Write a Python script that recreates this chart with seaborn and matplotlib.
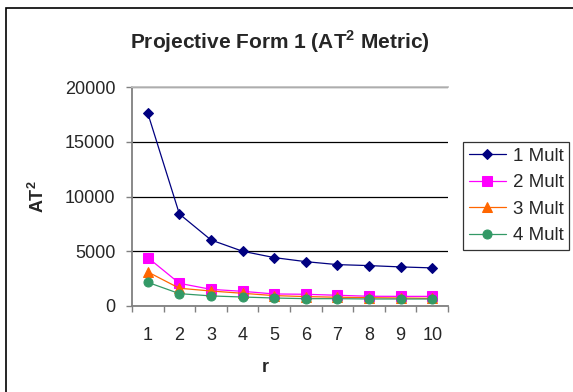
import numpy as np
import pandas as pd
import matplotlib
matplotlib.use("Agg")
import matplotlib.pyplot as plt
from matplotlib.patches import Rectangle
import seaborn as sns

# ---- data ----
r_values = [1, 2, 3, 4, 5, 6, 7, 8, 9, 10]
mult1 = [17600, 8400, 6030, 5000, 4420, 4050, 3780, 3690, 3570, 3480]
mult2 = [4420, 2070, 1520, 1340, 1100, 1070, 980, 890, 880, 880]
mult3 = [3110, 1620, 1370, 1160, 950, 860, 800, 760, 730, 700]
mult4 = [2160, 1130, 920, 820, 730, 670, 670, 640, 640, 640]
series_names = ["1 Mult", "2 Mult", "3 Mult", "4 Mult"]
y_ticks = [0, 5000, 10000, 15000, 20000]

colors = ["#000080", "#FF00FF", "#FF6600", "#339966"]
markers = ["D", "s", "^", "o"]
msizes = [5.5, 6.5, 7, 6.5]

sns.set_theme(style="white")
plt.rcParams["font.family"] = ["Liberation Sans", "DejaVu Sans"]
plt.rcParams["mathtext.fontset"] = "custom"
plt.rcParams["mathtext.rm"] = "Liberation Sans"
plt.rcParams["mathtext.bf"] = "Liberation Sans:bold"

df = pd.DataFrame({
    "r": r_values * 4,
    "AT2": mult1 + mult2 + mult3 + mult4,
    "series": sum([[n] * len(r_values) for n in series_names], []),
})

fig = plt.figure(figsize=(5.73, 3.92), dpi=100)
ax = fig.add_axes([132 / 573, 1 - 306 / 392, (448 - 132) / 573, (306 - 87) / 392])

for name, c, m, ms in zip(series_names, colors, markers, msizes):
    sub = df[df["series"] == name]
    sns.lineplot(data=sub, x="r", y="AT2", ax=ax, color=c, marker=m,
                 markersize=ms, markeredgecolor=c, linewidth=0.9,
                 label=name, legend=False, zorder=3)

ax.set_xlim(0.5, 10.5)
ax.set_ylim(0, 20000)
ax.set_yticks(y_ticks)
ax.set_yticklabels([str(v) for v in y_ticks], fontsize=13)
ax.set_xticks(np.arange(0.5, 11, 1))
ax.set_xticklabels([])
ax.set_xticks(r_values, minor=True)
ax.set_xticklabels([str(v) for v in r_values], minor=True, fontsize=13)
ax.tick_params(axis="x", which="major", direction="out", length=4.5, width=1,
               color="#808080", bottom=True)
ax.tick_params(axis="x", which="minor", length=0, pad=15)
ax.tick_params(axis="y", direction="out", length=4, width=1, color="#808080",
               left=True, pad=8)
ax.set_xlabel("")
ax.set_ylabel("")

ax.set_axisbelow(True)
ax.yaxis.grid(True, color="black", linewidth=0.9)
ax.xaxis.grid(False)
for s in ["left", "bottom", "top"]:
    ax.spines[s].set_visible(True)
    ax.spines[s].set_linewidth(1.3)
ax.spines["left"].set_color("#808080")
ax.spines["bottom"].set_color("#808080")
ax.spines["top"].set_color("#C0C0C0")
ax.spines["right"].set_visible(False)

fig.text(280 / 573, 1 - 42 / 392, r"Projective Form 1 (AT$^{\mathbf{2}}$ Metric)",
         ha="center", va="center", fontsize=15, fontweight="bold")
fig.text(38 / 573, 1 - 197 / 392, r"AT$^{\mathbf{2}}$", rotation=90,
         ha="center", va="center", fontsize=13, fontweight="bold")
fig.text(265 / 573, 1 - 367 / 392, "r", ha="center", va="center",
         fontsize=13, fontweight="bold")

handles, labels = ax.get_legend_handles_labels()
leg = fig.legend(handles, labels, loc="upper left",
                 bbox_to_anchor=(463 / 573, 1 - 142 / 392),
                 fontsize=13.5, frameon=True, fancybox=False,
                 handlelength=2.0, handletextpad=0.35, labelspacing=0.5,
                 borderpad=0.3, borderaxespad=0)
leg.get_frame().set_edgecolor("black")
leg.get_frame().set_linewidth(0.9)

fig.patches.append(Rectangle((5.5 / 573, -0.1), 2, 1.1 - 8 / 392,
                             transform=fig.transFigure, fill=False,
                             edgecolor="black", linewidth=1.2))

fig.savefig("out.png", dpi=100)
